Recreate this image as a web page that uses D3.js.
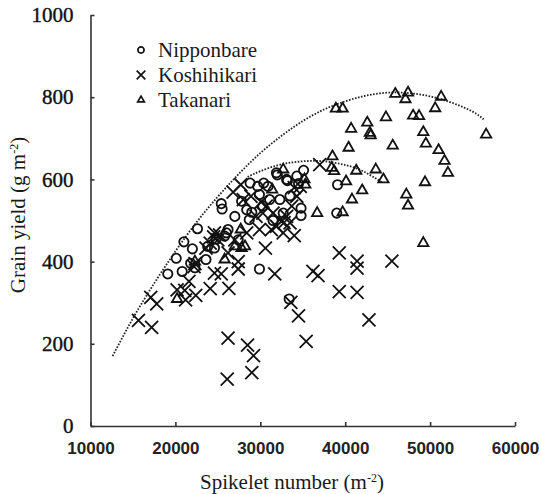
<!DOCTYPE html>
<html>
<head>
<meta charset="utf-8">
<script src="https://cdn.jsdelivr.net/npm/d3@7"></script>
<style>
  body { margin: 0; background: #fff; }
  svg { display: block; }
  text.serif { font-family: "Times New Roman", "Liberation Serif", "DejaVu Serif", serif; }
</style>
</head>
<body>
<script>
const w = 541,
      h = 494,
      plotL = 90.5,
      plotR = 515,
      plotT = 15,
      plotB = 426;

// spikelet number (m-2), grain yield (g m-2)
const nipponbare = [
  [22600,480],[21000,448],[22000,431],[20100,408],[20800,376],[19100,370],[21800,396],[23600,405],
  [25400,541],[25500,528],[27000,510],[24600,433],[26200,478],[29900,382],[33400,309],[39100,587],
  [39000,518],[34800,512],[34800,530],[35100,622],[29700,583],[30900,583],[29900,563],[27800,547],
  [28400,526],[30300,535],[31900,616],[33100,600],[34300,608],[32300,551],[32700,518],[31100,551],
  [28700,502],[25800,462],[27400,453],[23800,437],[28800,591],[30400,591],[32000,611],[33200,597],
  [26000,470],[24800,455],[31500,500],[33500,560],[34500,590],[29000,520],[22300,385]
];
const koshihikari = [
  [15650,257],[17200,240],[17100,313],[17800,297],[20200,331],[21200,307],[22400,318],[24100,334],
  [26300,335],[21600,352],[22200,388],[24600,372],[25400,370],[26200,214],[26100,114],[28500,197],
  [29200,171],[29000,130],[31700,370],[33600,301],[34500,268],[35400,206],[36200,376],[36800,366],
  [39300,421],[39300,327],[41400,401],[41400,384],[41400,325],[42800,258],[45500,401],[37000,636],
  [34000,463],[32700,470],[30600,433],[31300,478],[27400,382],[27400,400],[26800,569],[27700,587],
  [24600,470],[25000,453],[24100,445],[29900,478],[30300,518],[29500,510],[28000,551],[28900,559],
  [30700,535],[31500,518],[32300,502],[33100,510],[33700,535],[34300,559],[34700,583],[33500,494],
  [31900,486],[27000,453],[26200,421],[23600,433],[28400,470],[24500,460],[25200,465],[30100,545],
  [32800,495],[22300,395],[21100,330],[34000,580]
];
const takanari = [
  [45900,808],[47400,811],[47100,795],[51300,801],[50600,773],[38900,772],[39700,772],[48000,755],
  [48700,754],[44800,751],[42600,738],[40700,723],[42900,713],[43000,707],[49200,715],[56600,709],
  [49500,687],[45600,682],[40400,677],[51000,671],[51700,645],[52100,616],[38500,656],[38400,628],
  [41300,621],[43600,624],[44500,600],[40100,595],[49400,593],[42000,573],[40800,551],[47200,563],
  [47400,536],[36700,518],[39700,520],[49200,445],[32700,624],[31400,575],[35300,587],[35200,600],
  [27800,433],[25800,405],[20200,309],[27000,437],[28200,437],[27700,478],[22300,400],[38700,620]
];

// dotted boundary lines
const outerLine = [
  [12600,170],[15000,262],[17500,347],[20000,425],[22500,496],[25000,558],[27500,614],[30000,664],
  [32500,706],[35000,742],[37500,770],[40000,790],[42500,804],[45000,811],[47500,810],[50000,802],
  [52500,787],[55000,765],[56300,746]
];
const innerLine = [
  [28500,606],[30000,620],[32000,634],[34000,642],[36000,645],[38000,643],[40000,635],[42000,621],[44400,592]
];

const xTicks = [10000, 20000, 30000, 40000, 50000, 60000];
const yTicks = [0, 200, 400, 600, 800, 1000];
const legendNames = ["Nipponbare", "Koshihikari", "Takanari"];

const svg = d3.select("body").append("svg")
  .attr("width", w)
  .attr("height", h);

const xScale = d3.scaleLinear().domain([10000, 60000]).range([plotL, plotR]);
const yScale = d3.scaleLinear().domain([0, 1000]).range([plotB, plotT]);

// axes, ticks point inwards
const xAxis = d3.axisBottom(xScale)
  .tickValues(xTicks)
  .tickFormat(d3.format("d"))
  .tickSizeInner(-4)
  .tickSizeOuter(0)
  .tickPadding(16);

const yAxis = d3.axisLeft(yScale)
  .tickValues(yTicks)
  .tickFormat(d3.format("d"))
  .tickSizeInner(-4)
  .tickSizeOuter(0)
  .tickPadding(17);

const gx = svg.append("g")
  .attr("transform", "translate(0," + plotB + ")")
  .call(xAxis)
  .attr("font-family", "Liberation Sans, Arial, sans-serif")
  .attr("font-size", 17)
  .attr("font-weight", "bold");
gx.selectAll("text").attr("fill", "#222");

const gy = svg.append("g")
  .attr("transform", "translate(" + plotL + ",0)")
  .call(yAxis)
  .attr("font-family", null)
  .attr("font-size", 21);
gy.selectAll("text")
  .attr("class", "serif")
  .attr("fill", "#111")
  .attr("stroke", "#111")
  .attr("stroke-width", 0.4);

svg.selectAll(".domain, .tick line")
  .attr("stroke", "#333")
  .attr("stroke-width", 1.6);

// dotted curves
const line = d3.line()
  .x(d => xScale(d[0]))
  .y(d => yScale(d[1]))
  .curve(d3.curveNatural);

[outerLine, innerLine].forEach(pts => {
  svg.append("path")
    .attr("d", line(pts))
    .attr("fill", "none")
    .attr("stroke", "#222")
    .attr("stroke-width", 1.8)
    .attr("stroke-dasharray", "1.6,1.5");
});

// markers
const shapes = [
  d3.symbol().type(d3.symbolCircle).size(68),
  d3.symbol().type(d3.symbolTimes).size(112),
  d3.symbol().type(d3.symbolTriangle2).size(76)
];

[nipponbare, koshihikari, takanari].forEach((set, k) => {
  svg.append("g")
    .selectAll("path")
    .data(set)
    .enter()
    .append("path")
    .attr("d", shapes[k])
    .attr("transform", d => "translate(" + xScale(d[0]) + "," + yScale(d[1]) + ")")
    .attr("fill", "none")
    .attr("stroke", "#111")
    .attr("stroke-width", 1.8);
});

// legend
const legendShapes = [
  d3.symbol().type(d3.symbolCircle).size(30),
  d3.symbol().type(d3.symbolTimes).size(50),
  d3.symbol().type(d3.symbolTriangle2).size(32)
];
const legend = svg.append("g");
legendNames.forEach((name, i) => {
  const cy = 50 + i * 25;
  legend.append("path")
    .attr("d", legendShapes[i])
    .attr("transform", "translate(141," + cy + ")")
    .attr("fill", "none")
    .attr("stroke", "#111")
    .attr("stroke-width", 1.7);
  legend.append("text")
    .attr("class", "serif")
    .attr("x", 158)
    .attr("y", cy + 7)
    .attr("fill", "#1a1a1a")
    .attr("font-size", 21)
    .text(name);
});

// axis titles
const xt = svg.append("text")
  .attr("class", "serif")
  .attr("x", 292)
  .attr("y", 489)
  .attr("text-anchor", "middle")
  .attr("fill", "#1a1a1a")
  .attr("font-size", 21);
xt.append("tspan").text("Spikelet number (m");
xt.append("tspan").attr("dy", -7).attr("font-size", 12).text("-2");
xt.append("tspan").attr("dy", 7).text(")");

const yt = svg.append("text")
  .attr("class", "serif")
  .attr("transform", "translate(25,215) rotate(-90)")
  .attr("text-anchor", "middle")
  .attr("fill", "#1a1a1a")
  .attr("font-size", 21);
yt.append("tspan").text("Grain yield (g m");
yt.append("tspan").attr("dy", -7).attr("font-size", 12).text("-2");
yt.append("tspan").attr("dy", 7).text(")");
</script>
</body>
</html>
